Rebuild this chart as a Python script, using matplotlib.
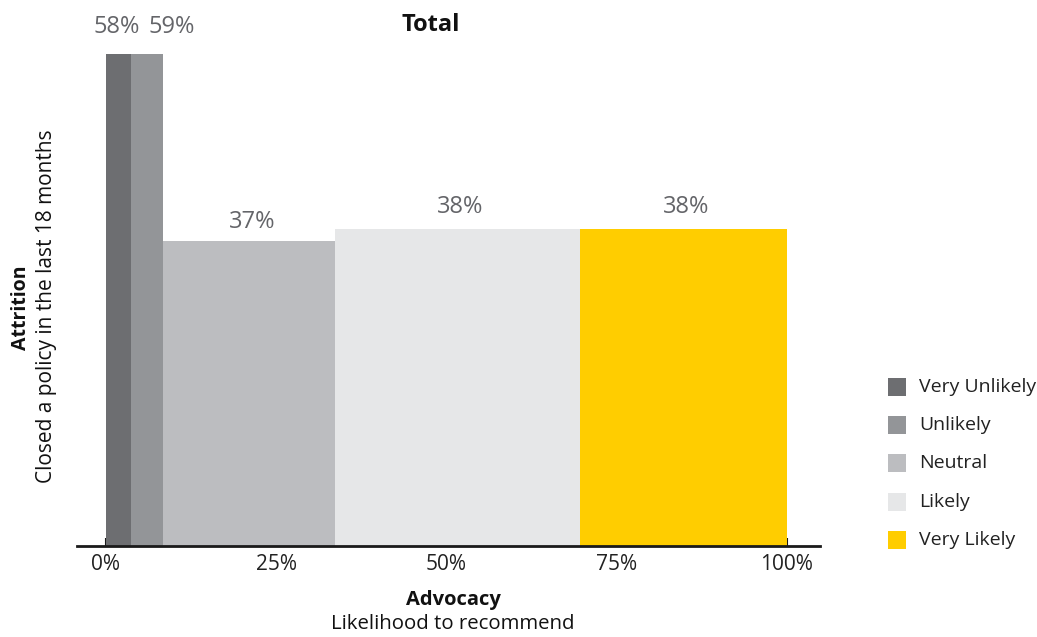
import matplotlib
matplotlib.use("Agg")
import matplotlib.pyplot as plt
from matplotlib.patches import Rectangle

plt.rcParams['font.family'] = ['Open Sans', 'DejaVu Sans']

categories = ["Very Unlikely", "Unlikely", "Neutral", "Likely", "Very Likely"]
widths = [3.6, 4.8, 25.3, 35.9, 30.4]          # share of respondents (x)
heights = [59, 59, 36.6, 38, 38]                # attrition bar height as drawn
value_labels = ["58%", "59%", "37%", "38%", "38%"]
colors = ["#6d6e71", "#939598", "#bcbdc0", "#e6e7e8", "#ffcd00"]
xticks = [0, 25, 50, 75, 100]
xtick_labels = ["0%", "25%", "50%", "75%", "100%"]

W, H = 1037, 637
fig = plt.figure(figsize=(W / 100, H / 100), dpi=100)

def fx(px):
    return px / W

def fy(py):
    return 1 - py / H

ax_l, ax_r, ax_b, ax_t = 77, 820, 546, 0
ax = fig.add_axes([fx(ax_l), fy(ax_b), fx(ax_r - ax_l), (ax_b - ax_t) / H])

# x scale: 0% at 106px, 100% at 787px
ppx = (787 - 106) / 100.0
ax.set_xlim(-(106 - ax_l) / ppx, 100 + (ax_r - 787) / ppx)
ppy = (546 - 229) / 38.0
ax.set_ylim(0, (ax_b - ax_t) / ppy)

lefts = []
acc = 0
for w in widths:
    lefts.append(acc)
    acc += w

ax.bar(lefts, heights, width=widths, align='edge', color=colors, edgecolor='none', zorder=2)

# value labels
label_offsets_x = [-1, 18, 2, 2, 2]
label_offsets_y = [10.5, 10.5, 4.5, 7.5, 7.5]
for l, w, h, lab, dx, dy in zip(lefts, widths, heights, value_labels, label_offsets_x, label_offsets_y):
    ax.annotate(lab, xy=(l + w / 2, h), xytext=(dx, dy), textcoords='offset points',
                ha='center', va='bottom', fontsize=17, color='#646569')

for s in ['left', 'right', 'top']:
    ax.spines[s].set_visible(False)
ax.spines['bottom'].set_linewidth(2)
ax.spines['bottom'].set_color('#1a1a1a')
ax.set_yticks([])
ax.set_xticks(xticks)
ax.set_xticklabels(xtick_labels)
ax.tick_params(axis='x', direction='in', length=6, width=1.5, color='#1a1a1a',
               labelsize=15, labelcolor='#222222', pad=6)

fig.text(fx(431), fy(25), "Total", ha='center', va='center', fontsize=17, fontweight='bold', color='#111111')
fig.text(fx(453), fy(600), "Advocacy", ha='center', va='center', fontsize=14.5, fontweight='bold', color='#111111')
fig.text(fx(453), fy(624), "Likelihood to recommend", ha='center', va='center', fontsize=14.7, color='#111111')
fig.text(fx(21), fy(308), "Attrition", ha='center', va='center', rotation=90, fontsize=14, fontweight='bold', color='#111111')
fig.text(fx(47), fy(306), "Closed a policy in the last 18 months", ha='center', va='center', rotation=90, fontsize=15, color='#111111')

# legend
for i, (cat, c) in enumerate(zip(categories, colors)):
    yc = 387 + i * 38.2
    fig.patches.append(Rectangle((fx(888), fy(yc + 9)), fx(18), 18 / H, transform=fig.transFigure,
                                 facecolor=c, edgecolor='none'))
    fig.text(fx(919), fy(yc), cat, ha='left', va='center', fontsize=14, color='#222222')

fig.savefig("out.png", dpi=100)
